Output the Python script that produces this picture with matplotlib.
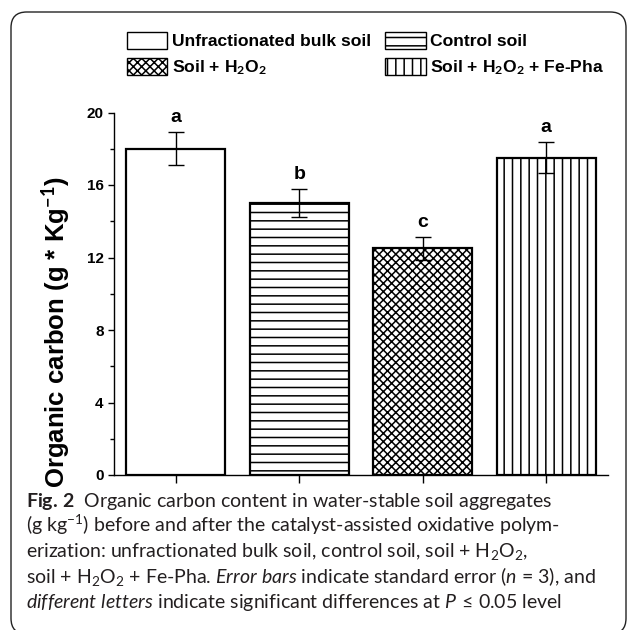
import matplotlib.pyplot as plt
from matplotlib.patches import Patch, FancyBboxPatch
from matplotlib.ticker import MultipleLocator

plt.rcParams['font.family'] = ['Liberation Sans', 'DejaVu Sans']
plt.rcParams['mathtext.fontset'] = 'custom'
plt.rcParams['mathtext.rm'] = 'Lato'
plt.rcParams['mathtext.it'] = 'Lato:italic'
plt.rcParams['mathtext.bf'] = 'Lato:bold'
plt.rcParams['hatch.linewidth'] = 1.1

# data
categories = ['Unfractionated bulk soil', 'Control soil',
              'Soil + H$_{\\mathbf{2}}$O$_{\\mathbf{2}}$',
              'Soil + H$_{\\mathbf{2}}$O$_{\\mathbf{2}}$ + Fe-Pha']
values = [18.0, 15.0, 12.5, 17.5]
errors = [0.9, 0.77, 0.63, 0.85]
letters = ['a', 'b', 'c', 'a']
hatches = ['', '--', 'xxxx', '||']
yticks = [0, 4, 8, 12, 16, 20]

caption_lines = [
    '$\\mathbf{Fig.\\,2}$  Organic carbon content in water-stable soil aggregates',
    '(g kg$^{-1}$) before and after the catalyst-assisted oxidative polym-',
    'erization: unfractionated bulk soil, control soil, soil + H$_2$O$_2$,',
    'soil + H$_2$O$_2$ + Fe-Pha. $\\mathit{Error\\ bars}$ indicate standard error ($\\mathit{n}$ = 3), and',
    '$\\mathit{different\\ letters}$ indicate significant differences at $\\mathit{P}\\,\\leq\\,0.05$ level',
]

W, H = 629, 630
fig = plt.figure(figsize=(W / 100, H / 100), dpi=100)

# rounded frame around the whole figure panel
frame = FancyBboxPatch((11 / W, -4 / H), 615 / W, 622 / H,
                       boxstyle='round,pad=0,rounding_size=0.025',
                       transform=fig.transFigure, facecolor='none',
                       edgecolor='#222222', linewidth=1.0)
fig.patches.append(frame)

ax = fig.add_axes([114 / W, 155 / H, 494 / W, 362.5 / H])
x = list(range(1, len(values) + 1))
bars = ax.bar(x, values, width=0.8, color='white', edgecolor='black', linewidth=1.6)
for b, h in zip(bars, hatches):
    b.set_hatch(h)
ax.errorbar(x, values, yerr=errors, fmt='none', ecolor='black',
            elinewidth=1.0, capsize=5.5, capthick=1.0)
for xi, v, e, lt in zip(x, values, errors, letters):
    ax.text(xi, v + e + 0.35, lt, ha='center', va='bottom',
            fontsize=14, fontweight='bold')

ax.set_xlim(0.5, 4.5)
ax.set_ylim(0, 20)
ax.set_xticks(x)
ax.set_xticklabels([])
ax.set_yticks(yticks)
ax.set_yticklabels([str(t) for t in yticks], fontsize=11, fontweight='bold')
ax.yaxis.set_minor_locator(MultipleLocator(2))
ax.tick_params(axis='y', which='major', direction='out', length=4.5, width=1, pad=3)
ax.tick_params(axis='y', which='minor', direction='out', length=3, width=1)
ax.tick_params(axis='x', direction='out', length=6, width=1)
for s in ['top', 'right']:
    ax.spines[s].set_visible(False)
for s in ['left', 'bottom']:
    ax.spines[s].set_linewidth(1.0)

ax.set_ylabel('Organic carbon (g * Kg$^{\\mathbf{-1}}$)', fontsize=18.5, fontweight='bold')
ax.yaxis.set_label_coords(-0.085, 0.395)

handles = [Patch(facecolor='white', edgecolor='black', hatch=h, linewidth=1.0)
           for h in hatches]
order = [0, 2, 1, 3]
fig.legend([handles[i] for i in order], [categories[i] for i in order],
           ncol=2, loc='upper left', bbox_to_anchor=(127 / W, 1 - 32 / H),
           frameon=False, borderpad=0, borderaxespad=0,
           prop={'weight': 'bold', 'size': 12.6},
           handlelength=2.3, handleheight=1.1, handletextpad=0.28,
           columnspacing=0.8, labelspacing=0.5)

baselines = [507, 532, 557.5, 583, 608]
for line, yb in zip(caption_lines, baselines):
    fig.text(26 / W, 1 - yb / H, line, ha='left', va='baseline',
             fontsize=14, family='Lato', color='#231f20')

fig.savefig('out.png', dpi=100)
